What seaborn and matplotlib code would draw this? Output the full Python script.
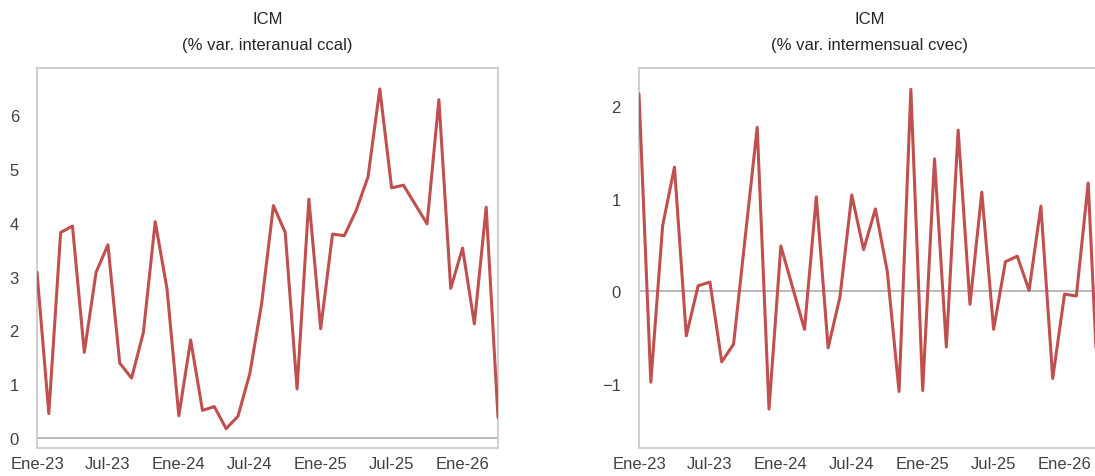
import numpy as np
import matplotlib
matplotlib.use("Agg")
import matplotlib.pyplot as plt
import seaborn as sns

# monthly series, Ene-23 .. Abr-26
yoy_ccal = [3.08, 0.45, 3.82, 3.94, 1.59, 3.08, 3.59, 1.39, 1.11, 1.96,
            4.02, 2.77, 0.41, 1.82, 0.51, 0.58, 0.17, 0.40, 1.19, 2.49,
            4.32, 3.82, 0.91, 4.44, 2.03, 3.79, 3.76, 4.23, 4.85, 6.49,
            4.65, 4.70, 4.34, 3.98, 6.29, 2.78, 3.53, 2.12, 4.29, 0.38]
mom_cvec = [2.13, -0.98, 0.71, 1.34, -0.48, 0.06, 0.10, -0.76, -0.57, 0.60,
            1.77, -1.27, 0.49, 0.04, -0.41, 1.02, -0.61, -0.06, 1.04, 0.45,
            0.89, 0.22, -1.08, 2.18, -1.07, 1.43, -0.60, 1.74, -0.14, 1.07,
            -0.41, 0.32, 0.38, 0.01, 0.92, -0.94, -0.03, -0.05, 1.17, -1.52]
tick_pos = [0, 6, 12, 18, 24, 30, 36]
tick_labels = ["Ene-23", "Jul-23", "Ene-24", "Jul-24", "Ene-25", "Jul-25", "Ene-26"]
titles = ["ICM\n(% var. interanual ccal)", "ICM\n(% var. intermensual cvec)"]

sns.set_style("white")
plt.rcParams["font.family"] = ["Liberation Sans", "DejaVu Sans"]

RED = "#c0504d"
SPINE = "#cccccc"

fig = plt.figure(figsize=(10.95, 4.77), dpi=100)
ax1 = fig.add_axes([37 / 1095, 28 / 477, 461 / 1095, 380 / 477])
ax2 = fig.add_axes([639 / 1095, 28 / 477, 461 / 1095, 380 / 477])

for ax, vals, title, ylim, yt in [
    (ax1, yoy_ccal, titles[0], (-0.19, 6.88), range(0, 7)),
    (ax2, mom_cvec, titles[1], (-1.69, 2.41), range(-1, 3)),
]:
    x = np.arange(len(vals))
    ax.axhline(0, color="#b4b4b4", lw=1.3, zorder=1)
    sns.lineplot(x=x, y=vals, ax=ax, color=RED, linewidth=2.2, zorder=3)
    ax.set_xlim(0, len(vals) - 1)
    ax.set_ylim(*ylim)
    ax.set_yticks(list(yt))
    ax.set_xticks(tick_pos)
    ax.set_xticklabels(tick_labels)
    ax.tick_params(axis="x", length=0, pad=6, labelsize=12, labelcolor="#404040")
    ax.tick_params(axis="y", length=0, pad=13, labelsize=12, labelcolor="#404040")
    for s in ax.spines.values():
        s.set_color(SPINE)
        s.set_linewidth(1.3)
    ax.set_title(title, fontsize=12, color="#262626", linespacing=1.85, pad=14)

fig.savefig("out.png", dpi=100)
